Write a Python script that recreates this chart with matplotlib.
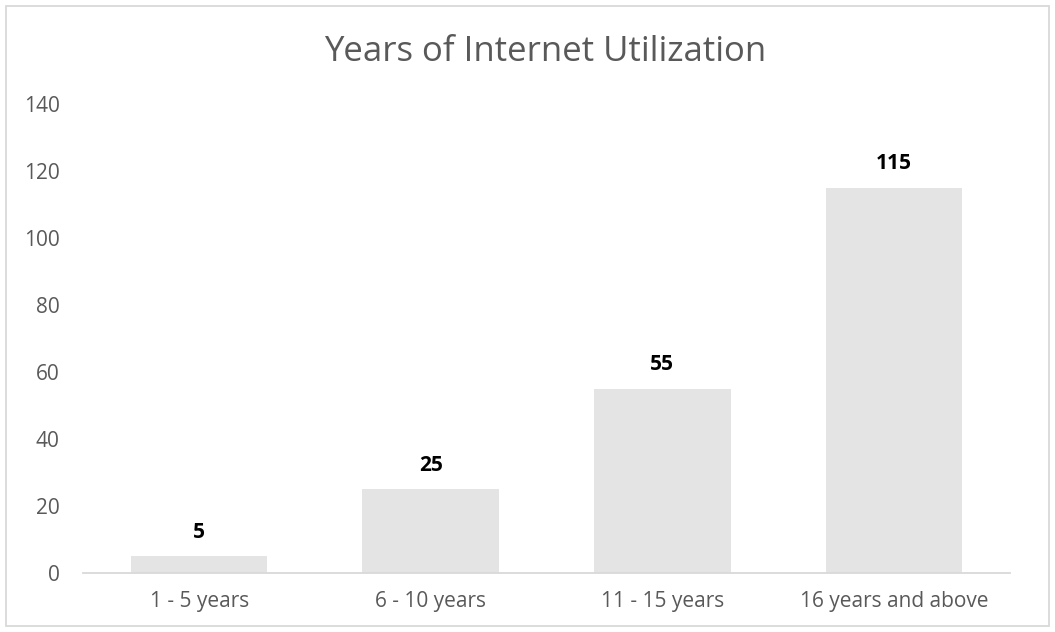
import matplotlib.pyplot as plt
from matplotlib.patches import Rectangle

# usage buckets and respondent counts
categories = ["1 - 5 years", "6 - 10 years", "11 - 15 years", "16 years and above"]
counts = [5, 25, 55, 115]
yticks = [0, 20, 40, 60, 80, 100, 120, 140]

plt.rcParams['font.family'] = ['Open Sans', 'DejaVu Sans']
text_grey = '#595959'

fig = plt.figure(figsize=(10.55, 6.32), dpi=100)
ax = fig.add_axes([0.079, 0.093, 0.878, 0.742])

x = range(len(categories))
bars = ax.bar(x, counts, width=0.59, color='#e4e4e4', zorder=2)
for b, v in zip(bars, counts):
    ax.annotate(str(v), (b.get_x() + b.get_width() / 2, v), xytext=(0, 10),
                textcoords='offset points', ha='center', va='bottom',
                fontsize=15, fontweight='bold', color='black')

ax.set_xlim(-0.5, len(categories) - 0.5)
ax.set_ylim(0, 140)
ax.set_yticks(yticks)
ax.set_xticks(list(x))
ax.set_xticklabels(categories)
ax.tick_params(axis='both', length=0, labelsize=15, colors=text_grey)
ax.tick_params(axis='y', pad=17)
ax.tick_params(axis='x', pad=13)
for side in ['top', 'right', 'left']:
    ax.spines[side].set_visible(False)
ax.spines['bottom'].set_color('#d9d9d9')
ax.spines['bottom'].set_linewidth(1.3)

fig.text(0.517, 0.918, "Years of Internet Utilization", ha='center', va='center',
         fontsize=25, color=text_grey)

# outer chart border
fig.patches.append(Rectangle((0.006, 0.009), 0.988, 0.982, transform=fig.transFigure,
                             fill=False, edgecolor='#d9d9d9', linewidth=1.3))

fig.savefig('out.png', dpi=100)
